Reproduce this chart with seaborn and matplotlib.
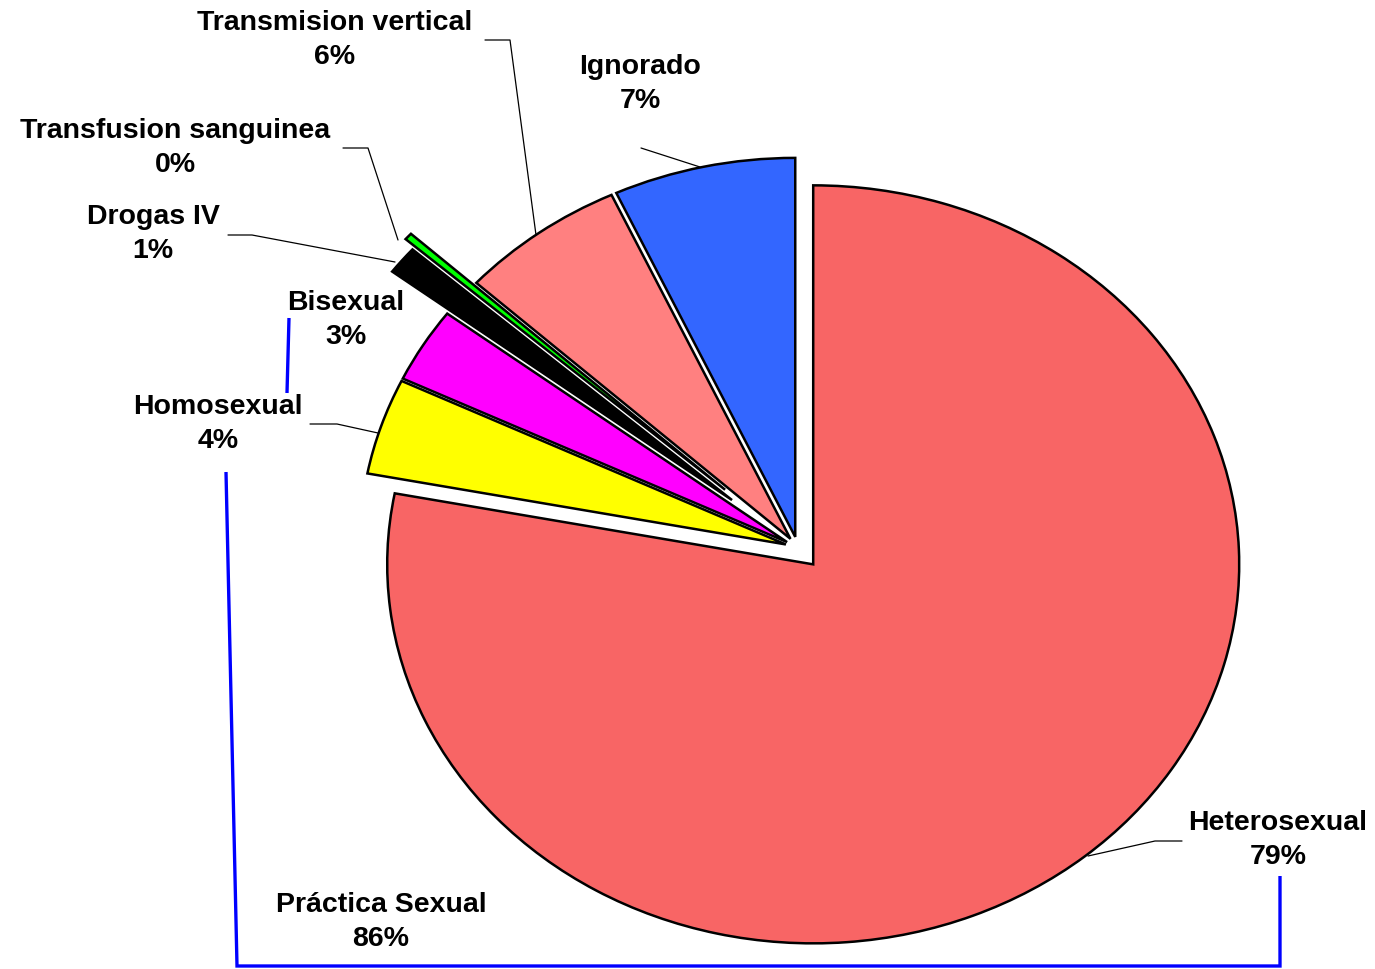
import numpy as np
import matplotlib
matplotlib.use("Agg")
import matplotlib.pyplot as plt
import seaborn as sns
from matplotlib.lines import Line2D

# ---------- Data ----------
categories = ["Ignorado", "Transmision vertical", "Transfusion sanguinea",
              "Drogas IV", "Bisexual", "Homosexual", "Heterosexual"]
values = [6.9, 6.3, 0.3, 1.2, 3.2, 4.1, 78.0]
pct_labels = ["7%", "6%", "0%", "1%", "3%", "4%", "79%"]
colors = ["#3366FF", "#FF8080", "#00FF00", "#000000", "#FF00FF", "#FFFF00", "#F86565"]
explode = [0.03, 0.03, 0.23, 0.2, 0.03, 0.03, 0.056]
group_label = "Práctica Sexual"
group_pct = "86%"

# ---------- Layout (figure pixels) ----------
W, H = 1375, 969
center_px = (798, 548)
rx, ry = 426, 379

label_pos = {
    "Ignorado": (640, 83.5),
    "Transmision vertical": (335, 39.5),
    "Transfusion sanguinea": (175, 147.5),
    "Drogas IV": (153, 233.5),
    "Bisexual": (346, 320.5),
    "Homosexual": (218, 423.5),
    "Heterosexual": (1278, 839.5),
}
leaders = {
    "Ignorado": [(641, 148), (700, 167)],
    "Transmision vertical": [(485, 40), (510, 40), (536, 235)],
    "Transfusion sanguinea": [(343, 148), (368, 148), (398, 240)],
    "Drogas IV": [(228, 235), (252, 235), (395, 262)],
    "Homosexual": [(310, 424), (337, 424), (378, 433)],
    "Heterosexual": [(1182, 841), (1155, 841), (1088, 856)],
}
group_pos = (381, 922.5)
bracket_short = [(289, 318), (287, 393)]
bracket_main = [(226, 472), (237, 966), (1280, 966), (1280, 876)]


def fx(p):
    return (p[0] / W, 1 - p[1] / H)


sns.set_theme(style="white")
plt.rcParams["font.family"] = ["Liberation Sans", "DejaVu Sans"]

fig = plt.figure(figsize=(W / 100, H / 100), dpi=100)
ax = fig.add_axes([0, 0, 1, 1])

wedges, _ = ax.pie(values, colors=colors, explode=explode, startangle=90,
                   counterclock=True, radius=1,
                   wedgeprops=dict(edgecolor="black", linewidth=1.8))
ax.set_aspect("auto")
ax.set_xlim(-center_px[0] / rx, (W - center_px[0]) / rx)
ax.set_ylim(-(H - center_px[1]) / ry, center_px[1] / ry)
ax.axis("off")

txt_kw = dict(ha="center", va="center", fontsize=20.5, fontweight="bold",
              color="black", linespacing=1.4)
for name, pct in zip(categories, pct_labels):
    x, y = fx(label_pos[name])
    fig.text(x, y, f"{name}\n{pct}", **txt_kw)

for name, pts in leaders.items():
    xs, ys = zip(*[fx(p) for p in pts])
    fig.add_artist(Line2D(xs, ys, color="black", lw=0.9, transform=fig.transFigure))

x, y = fx(group_pos)
fig.text(x, y, f"{group_label}\n{group_pct}", **txt_kw)

for pts in (bracket_short, bracket_main):
    xs, ys = zip(*[fx(p) for p in pts])
    fig.add_artist(Line2D(xs, ys, color="#0000FF", lw=2.4, transform=fig.transFigure,
                          solid_capstyle="butt", solid_joinstyle="miter"))

fig.savefig("out.png", dpi=100, facecolor="white")
